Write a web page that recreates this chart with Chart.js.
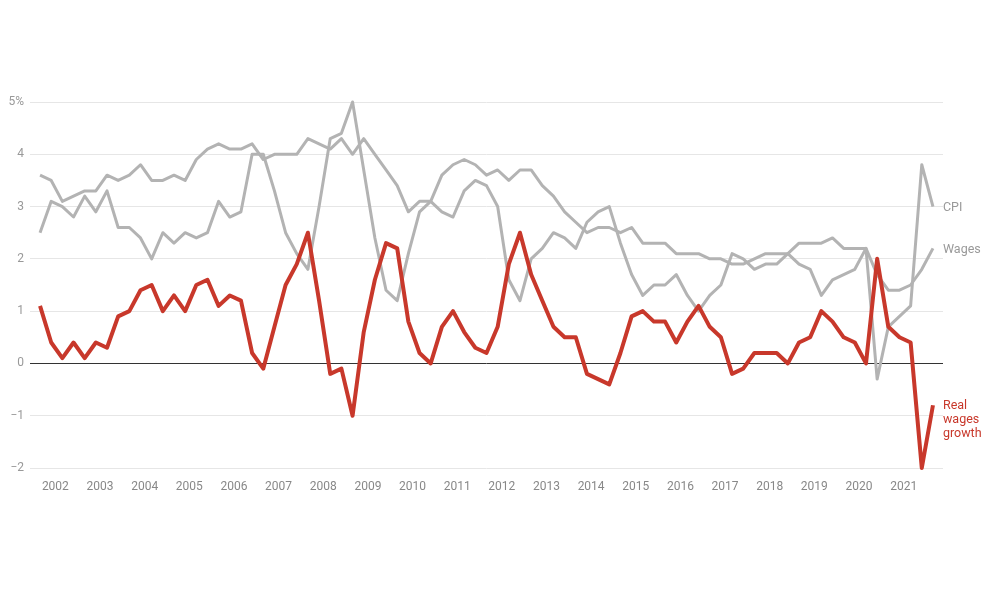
<!DOCTYPE html>
<html>
<head>
<meta charset="utf-8">
<script src="https://cdn.jsdelivr.net/npm/chart.js@4"></script>
<style>
  html, body { margin: 0; padding: 0; background: #fff; }
  #wrap { width: 1000px; height: 600px; }
</style>
</head>
<body>
<div id="wrap"><canvas id="wagesChart"></canvas></div>
<script>
// Trimestres: 2001 T3 .. 2021 T3
const quarters = [];
for (let y = 2001; y <= 2021; y++) {
    for (let q = 1; q <= 4; q++) {
        if ((y === 2001 && q < 3) || (y === 2021 && q > 3)) continue;
        quarters.push(y + ' Q' + q);
    }
}

const cpi = [
    2.5, 3.1, 3.0, 2.8, 3.2, 2.9, 3.3, 2.6, 2.6, 2.4,
    2.0, 2.5, 2.3, 2.5, 2.4, 2.5, 3.1, 2.8, 2.9, 4.0,
    4.0, 3.3, 2.5, 2.1, 1.8, 3.0, 4.3, 4.4, 5.0, 3.7,
    2.4, 1.4, 1.2, 2.1, 2.9, 3.1, 2.9, 2.8, 3.3, 3.5,
    3.4, 3.0, 1.6, 1.2, 2.0, 2.2, 2.5, 2.4, 2.2, 2.7,
    2.9, 3.0, 2.3, 1.7, 1.3, 1.5, 1.5, 1.7, 1.3, 1.0,
    1.3, 1.5, 2.1, 2.0, 1.8, 1.9, 1.9, 2.1, 1.9, 1.8,
    1.3, 1.6, 1.7, 1.8, 2.2, -0.3, 0.7, 0.9, 1.1, 3.8,
    3.0
];

const wages = [
    3.6, 3.5, 3.1, 3.2, 3.3, 3.3, 3.6, 3.5, 3.6, 3.8,
    3.5, 3.5, 3.6, 3.5, 3.9, 4.1, 4.2, 4.1, 4.1, 4.2,
    3.9, 4.0, 4.0, 4.0, 4.3, 4.2, 4.1, 4.3, 4.0, 4.3,
    4.0, 3.7, 3.4, 2.9, 3.1, 3.1, 3.6, 3.8, 3.9, 3.8,
    3.6, 3.7, 3.5, 3.7, 3.7, 3.4, 3.2, 2.9, 2.7, 2.5,
    2.6, 2.6, 2.5, 2.6, 2.3, 2.3, 2.3, 2.1, 2.1, 2.1,
    2.0, 2.0, 1.9, 1.9, 2.0, 2.1, 2.1, 2.1, 2.3, 2.3,
    2.3, 2.4, 2.2, 2.2, 2.2, 1.7, 1.4, 1.4, 1.5, 1.8,
    2.2
];

const realWages = [
    1.1, 0.4, 0.1, 0.4, 0.1, 0.4, 0.3, 0.9, 1.0, 1.4,
    1.5, 1.0, 1.3, 1.0, 1.5, 1.6, 1.1, 1.3, 1.2, 0.2,
    -0.1, 0.7, 1.5, 1.9, 2.5, 1.2, -0.2, -0.1, -1.0, 0.6,
    1.6, 2.3, 2.2, 0.8, 0.2, 0.0, 0.7, 1.0, 0.6, 0.3,
    0.2, 0.7, 1.9, 2.5, 1.7, 1.2, 0.7, 0.5, 0.5, -0.2,
    -0.3, -0.4, 0.2, 0.9, 1.0, 0.8, 0.8, 0.4, 0.8, 1.1,
    0.7, 0.5, -0.2, -0.1, 0.2, 0.2, 0.2, 0.0, 0.4, 0.5,
    1.0, 0.8, 0.5, 0.4, 0.0, 2.0, 0.7, 0.5, 0.4, -2.0,
    -0.8
];

const seriesNames = ['Real wages growth', 'CPI', 'Wages'];
const endLabels = [['Real', 'wages', 'growth'], ['CPI'], ['Wages']];

const yTicks = [-2, -1, 0, 1, 2, 3, 4, 5];

const red = '#c8382b';
const grey = '#b3b3b3';

const toPoints = arr => arr.map((v, i) => ({ x: i, y: v }));

// Etiquetas al final de cada línea
const endLabelPlugin = {
    id: 'endLabels',
    afterDatasetsDraw(chart) {
        const c = chart.ctx;
        c.save();
        c.font = '12.5px Roboto';
        c.textAlign = 'left';
        c.textBaseline = 'middle';
        chart.data.datasets.forEach((ds, k) => {
            const meta = chart.getDatasetMeta(k);
            const last = meta.data[meta.data.length - 1];
            c.fillStyle = k === 0 ? red : '#999';
            endLabels[k].forEach((line, j) => {
                c.fillText(line, last.x + 10, last.y + 1 + j * 14);
            });
        });
        c.restore();
    }
};

const ctx = document.getElementById('wagesChart').getContext('2d');

const wagesChart = new Chart(ctx, {
    type: 'line',
    data: {
        datasets: [
            {
                label: seriesNames[0],
                data: toPoints(realWages),
                borderColor: red,
                borderWidth: 4,
                borderJoinStyle: 'round',
                pointRadius: 0,
                tension: 0,
                clip: false
            },
            {
                label: seriesNames[1],
                data: toPoints(cpi),
                borderColor: grey,
                borderWidth: 3,
                borderJoinStyle: 'round',
                pointRadius: 0,
                tension: 0,
                clip: false
            },
            {
                label: seriesNames[2],
                data: toPoints(wages),
                borderColor: grey,
                borderWidth: 3,
                borderJoinStyle: 'round',
                pointRadius: 0,
                tension: 0,
                clip: false
            }
        ]
    },
    options: {
        responsive: true,
        maintainAspectRatio: false,
        animation: false,
        layout: {
            padding: { top: 102, right: 57, bottom: 108, left: 0 }
        },
        plugins: {
            legend: { display: false },
            tooltip: { enabled: false }
        },
        scales: {
            x: {
                type: 'linear',
                min: -0.9,
                max: 80.9,
                grid: { display: false },
                border: { display: false },
                afterBuildTicks: scale => {
                    scale.ticks = quarters
                        .map((q, i) => ({ value: i, q: q }))
                        .filter(t => t.q.endsWith('Q1'))
                        .map(t => ({ value: t.value }));
                },
                afterFit: scale => { scale.height = 24; },
                ticks: {
                    color: '#888',
                    font: { family: 'Roboto', size: 12 },
                    padding: 4,
                    maxRotation: 0,
                    autoSkip: false,
                    labelOffset: -7,
                    callback: value => quarters[value].slice(0, 4)
                }
            },
            y: {
                min: -2,
                max: 5,
                border: { display: false },
                afterBuildTicks: scale => {
                    scale.ticks = yTicks.map(v => ({ value: v }));
                },
                afterFit: scale => { scale.width = 30; },
                grid: {
                    drawTicks: false,
                    color: c => c.tick && c.tick.value === 0 ? '#333' : '#e6e6e6',
                    lineWidth: 1
                },
                ticks: {
                    color: '#999',
                    font: { family: 'Roboto', size: 12 },
                    padding: 6,
                    callback: value => value === 5 ? '5%' : (value < 0 ? '\u2212' + Math.abs(value) : value)
                }
            }
        }
    },
    plugins: [endLabelPlugin]
});
</script>
</body>
</html>
